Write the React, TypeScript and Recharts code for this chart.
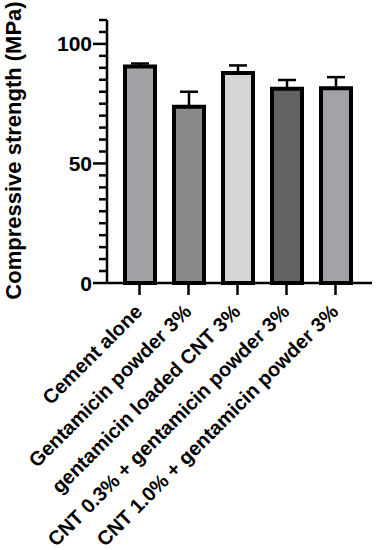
import { BarChart, Bar, XAxis, YAxis, ErrorBar, Cell } from 'recharts';

const groups = [
  'Cement alone',
  'Gentamicin powder 3%',
  'gentamicin loaded CNT 3%',
  'CNT 0.3% + gentamicin powder 3%',
  'CNT 1.0% + gentamicin powder 3%',
];
const strength = [90.5, 73.7, 87.8, 81.2, 81.5];
const errUp = [1.3, 6.3, 3.2, 3.7, 4.6];
const barColors = ['#a2a2a6', '#898989', '#d5d5d5', '#626262', '#a3a3a7'];
const yTicks = [0, 5, 10, 15, 20, 25, 30, 35, 40, 45, 50, 55, 60, 65, 70, 75, 80, 85, 90, 95, 100, 105, 110];
const yLabelled = [0, 50, 100];

const font = '"Liberation Sans", Arial, sans-serif';

const data = groups.map((name, i) => ({
  name,
  value: strength[i],
  err: [0, errUp[i]],
}));

const YTick = ({ x, y, payload }: any) => {
  const major = yLabelled.includes(payload.value);
  return (
    <g>
      <line x1={x - (major ? 14 : 8)} y1={y} x2={x} y2={y} stroke="#000" strokeWidth={2.5} />
      {major && (
        <text x={x - 15} y={y} dy="0.36em" textAnchor="end" fontFamily={font} fontWeight="bold" fontSize={21} fill="#000">
          {payload.value}
        </text>
      )}
    </g>
  );
};

const XTick = ({ x, y, payload }: any) => (
  <g>
    <line x1={x} y1={y} x2={x} y2={y + 12} stroke="#000" strokeWidth={2.5} />
    <text
      transform={`translate(${x + 4},${y + 30}) rotate(-45)`}
      textAnchor="end"
      fontFamily={font}
      fontWeight="bold"
      fontSize={20}
      fill="#000"
    >
      {payload.value}
    </text>
  </g>
);

const YTitle = ({ viewBox }: any) => {
  const cx = 21;
  const cy = viewBox.y + viewBox.height / 2 - 1;
  return (
    <text
      transform={`translate(${cx},${cy}) rotate(-90)`}
      textAnchor="middle"
      fontFamily={font}
      fontWeight="bold"
      fontSize={22}
      fill="#000"
    >
      Compressive strength (MPa)
    </text>
  );
};

export default function App() {
  return (
    <div style={{ position: 'absolute', left: 0, top: 0, background: '#fff' }}>
      <BarChart width={378} height={550} data={data} margin={{ top: 20, right: 6, left: 0, bottom: 0 }}>
        <XAxis
          dataKey="name"
          interval={0}
          height={267}
          padding={{ left: 8, right: 12 }}
          axisLine={{ stroke: '#000', strokeWidth: 2.5 }}
          tickLine={false}
          tickSize={0}
          tickMargin={0}
          tick={<XTick />}
        />
        <YAxis
          width={107}
          domain={[0, 110]}
          ticks={yTicks}
          interval={0}
          axisLine={{ stroke: '#000', strokeWidth: 2.5 }}
          tickLine={false}
          tickSize={0}
          tickMargin={0}
          tick={<YTick />}
          label={<YTitle />}
        />
        <Bar dataKey="value" barSize={30} stroke="#000" strokeWidth={4} isAnimationActive={false}>
          {data.map((d, i) => (
            <Cell key={d.name} fill={barColors[i]} />
          ))}
          <ErrorBar dataKey="err" width={9} stroke="#000" strokeWidth={2.5} direction="y" isAnimationActive={false} />
        </Bar>
      </BarChart>
    </div>
  );
}
